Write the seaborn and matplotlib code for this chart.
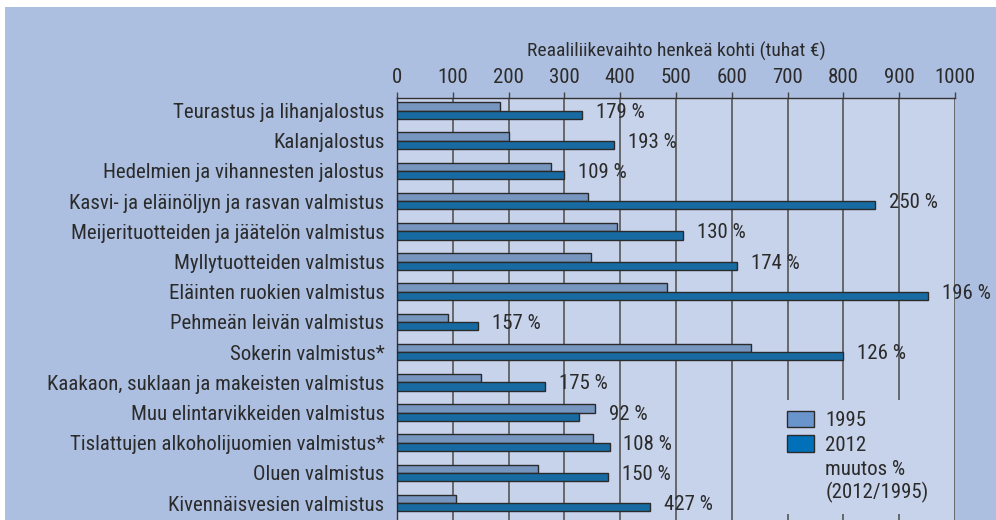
import matplotlib
matplotlib.use('Agg')
import matplotlib.pyplot as plt
import seaborn as sns
import pandas as pd
from matplotlib import font_manager
from matplotlib.patches import Patch, Rectangle
from matplotlib.ticker import FixedLocator, MultipleLocator

# Data
categories = [
    'Teurastus ja lihanjalostus',
    'Kalanjalostus',
    'Hedelmien ja vihannesten jalostus',
    'Kasvi- ja eläinöljyn ja rasvan valmistus',
    'Meijerituotteiden ja jäätelön valmistus',
    'Myllytuotteiden valmistus',
    'Eläinten ruokien valmistus',
    'Pehmeän leivän valmistus',
    'Sokerin valmistus*',
    'Kaakaon, suklaan ja makeisten valmistus',
    'Muu elintarvikkeiden valmistus',
    'Tislattujen alkoholijuomien valmistus*',
    'Oluen valmistus',
    'Kivennäisvesien valmistus',
]
v1995 = [184, 200, 276, 342, 394, 348, 484, 92, 635, 151, 355, 351, 252, 105]
v2012 = [332, 389, 300, 856, 513, 609, 951, 146, 800, 266, 327, 381, 378, 453]
change = [179, 193, 109, 250, 130, 174, 196, 157, 126, 175, 92, 108, 150, 427]
years = ['1995', '2012']
x_ticks = list(range(0, 1001, 100))

# pick a narrow font if there is one
available = {f.name for f in font_manager.fontManager.ttflist}
font = 'DejaVu Sans'
for cand in ['Liberation Sans Narrow', 'Roboto Condensed', 'Open Sans Condensed', 'Liberation Sans']:
    if cand in available:
        font = cand
        break

sns.set_style('white')
plt.rcParams['font.family'] = [font, 'DejaVu Sans']
plt.rcParams['text.color'] = '#2b2b2b'
plt.rcParams['axes.labelcolor'] = '#2b2b2b'
plt.rcParams['xtick.color'] = '#2b2b2b'
plt.rcParams['ytick.color'] = '#2b2b2b'

df = pd.DataFrame({
    'toimiala': categories * 2,
    'vuosi': [years[0]] * len(categories) + [years[1]] * len(categories),
    'arvo': v1995 + v2012,
})

W, H = 996, 520
fig = plt.figure(figsize=(W / 100, H / 100), dpi=100, facecolor='white')
fig.patches.append(Rectangle((5 / W, 0), 1, 1 - 7 / H, transform=fig.transFigure,
                             facecolor='#adbfe0', edgecolor='none', zorder=-10))

pitch = 30.2
ax_h = pitch * len(categories)
ax = fig.add_axes([397 / W, (H - 98 - ax_h) / H, (955 - 397) / W, ax_h / H])
ax.set_facecolor('#c7d3eb')

colors = {'1995': '#6a95cc', '2012': '#0070b9'}
sns.barplot(data=df, x='arvo', y='toimiala', hue='vuosi', hue_order=years,
            order=categories, palette=colors, width=0.55, edgecolor='#2a2a2a',
            linewidth=1, legend=False, ax=ax, zorder=3)

s = 0.083
ax.set_xlim(0, 1000)
ax.set_ylim(len(categories) - 0.5 + s, -0.5 + s)

fs = 15
# change labels
for i, (a, b, c) in enumerate(zip(v1995, v2012, change)):
    ax.annotate(f'{c} %', xy=(max(a, b), i + 0.05), xytext=(10, 0),
                textcoords='offset points', va='center', ha='left',
                fontsize=fs, zorder=4)

ax.xaxis.tick_top()
ax.xaxis.set_label_position('top')
ax.xaxis.set_major_locator(FixedLocator(x_ticks))
ax.set_xticklabels([str(t) for t in x_ticks], fontsize=fs)
ax.set_xlabel('Reaaliliikevaihto henkeä kohti (tuhat €)', fontsize=14, labelpad=8)
ax.tick_params(axis='x', direction='out', length=4, width=1, pad=4, color='#444444')
ax.grid(axis='x', color='#555555', linewidth=1.2, zorder=1)
ax.set_axisbelow(True)

ax.set_ylabel('')
ax.tick_params(axis='y', which='major', length=0, pad=9, labelsize=fs)
ax.yaxis.set_minor_locator(MultipleLocator(1, offset=0.5 + s))
ax.tick_params(axis='y', which='minor', direction='out', length=5, width=1, color='#333333')

for side in ['right', 'bottom']:
    ax.spines[side].set_visible(False)
for side in ['left', 'top']:
    ax.spines[side].set_color('#333333')
    ax.spines[side].set_linewidth(1)

handles = [Patch(facecolor=colors['1995'], edgecolor='#2a2a2a', label='1995'),
           Patch(facecolor=colors['2012'], edgecolor='#2a2a2a', label='2012'),
           Patch(facecolor='none', edgecolor='none', label='muutos %\n(2012/1995)')]
leg = ax.legend(handles=handles, loc='upper left', bbox_to_anchor=(0.661, 0.31),
                fontsize=fs, frameon=True, fancybox=False, facecolor='#c7d3eb',
                edgecolor='none', framealpha=1, handlelength=1.3, handleheight=0.85,
                handletextpad=0.55, labelspacing=0.25, borderpad=0.5)
leg.set_zorder(5)

fig.savefig('out.png', dpi=100, facecolor=fig.get_facecolor())
